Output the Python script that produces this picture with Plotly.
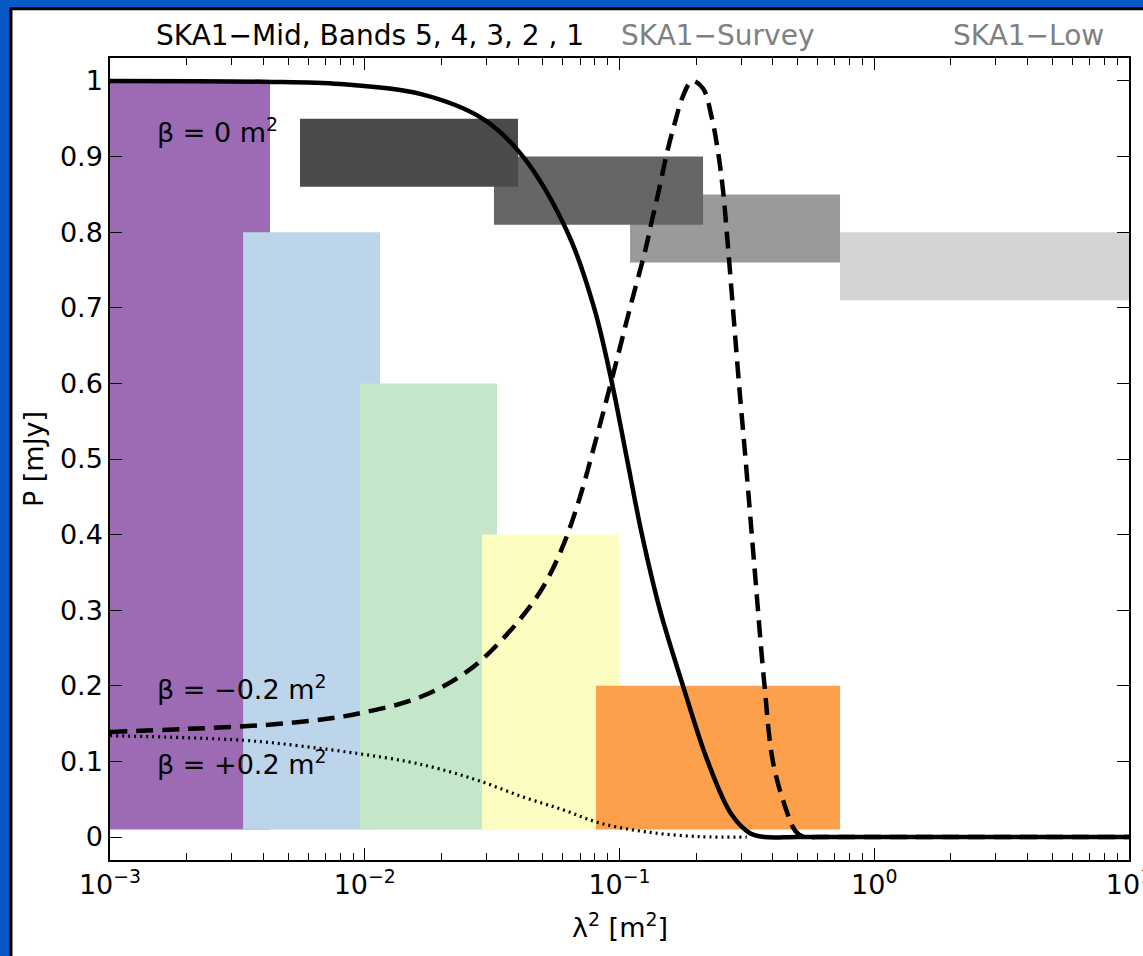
import plotly.graph_objects as go

# ---------------- data ----------------
# beta = 0 m^2  (solid)
lam_solid = [0.001, 0.004, 0.008, 0.0165, 0.0291, 0.0418, 0.0625, 0.0795, 0.0935,
             0.107, 0.1225, 0.1442, 0.1775, 0.222, 0.275, 0.3254, 0.37, 0.5,
             1.0, 10.0]
p_solid = [1.0, 0.999, 0.996, 0.983, 0.95, 0.90, 0.80, 0.70, 0.60,
           0.50, 0.40, 0.30, 0.20, 0.10, 0.03, 0.005, 0.0, 0.0,
           0.0, 0.0]

# beta = -0.2 m^2 (dashed)
lam_dash = [0.001, 0.002, 0.004, 0.007, 0.01, 0.015, 0.02, 0.025, 0.03, 0.04,
            0.05, 0.06, 0.07, 0.08, 0.09, 0.10, 0.11, 0.126, 0.134, 0.1442,
            0.1536, 0.165, 0.1775, 0.1926, 0.2128, 0.2307, 0.2435, 0.2549,
            0.2667, 0.2944, 0.3124, 0.340, 0.370, 0.40, 0.447, 0.49, 0.53,
            0.6, 1.0, 10.0]
p_dash = [0.139, 0.143, 0.148, 0.156, 0.165, 0.180, 0.198, 0.218, 0.240, 0.285,
          0.33, 0.385, 0.45, 0.52, 0.585, 0.645, 0.70, 0.775, 0.815, 0.862,
          0.905, 0.945, 0.980, 1.0, 0.99, 0.95, 0.907, 0.855,
          0.78, 0.60, 0.50, 0.35, 0.204, 0.10, 0.04, 0.008, 0.0,
          0.0, 0.0, 0.0]

# beta = +0.2 m^2 (dotted)
lam_dot = [0.001, 0.00333, 0.00572, 0.00958, 0.0146, 0.0197, 0.0283, 0.0418,
           0.060, 0.0838, 0.128, 0.207, 0.316]
p_dot = [0.134, 0.128, 0.12, 0.11, 0.10, 0.09, 0.074, 0.053,
         0.036, 0.0185, 0.0066, 0.0005, 0.0]

# SKA1-Mid bands (coloured blocks): lambda^2 start, end, P top
band_names = ["Band 5", "Band 4", "Band 3", "Band 2", "Band 1"]
band_x0 = [0.001, 0.00333, 0.00958, 0.02886, 0.08086]
band_x1 = [0.004246, 0.01148, 0.03305, 0.09955, 0.7338]
band_top = [1.0, 0.8, 0.6, 0.4, 0.2]
band_bottom = [0.01, 0.01, 0.01, 0.01, 0.01]
band_colors = ["#9c6bb4", "#bdd5ea", "#c4e7ca", "#fdfdc2", "#fca04c"]

# grey blocks (drawn light first, dark on top)
grey_x0 = [0.7338, 0.1100, 0.03216, 0.005569]
grey_x1 = [10.0, 0.7338, 0.2128, 0.03996]
grey_bottom = [0.71, 0.76, 0.81, 0.86]
grey_top = [0.80, 0.85, 0.90, 0.95]
grey_colors = ["#d4d4d4", "#9a9a9a", "#666666", "#4b4b4b"]

y_ticks = [0, 0.1, 0.2, 0.3, 0.4, 0.5, 0.6, 0.7, 0.8, 0.9, 1]
y_ticktext = ["0", "0.1", "0.2", "0.3", "0.4", "0.5", "0.6", "0.7", "0.8", "0.9", "1"]
x_ticks = [1e-3, 1e-2, 1e-1, 1e0, 1e1]
x_ticktext = ["10<sup>−3</sup>", "10<sup>−2</sup>", "10<sup>−1</sup>",
              "10<sup>0</sup>", "10<sup>1</sup>"]

FONT = "DejaVu Sans, Liberation Sans, Arial, sans-serif"
FS = 27

fig = go.Figure()

shapes = []
# white panel over blue slide background
shapes.append(dict(type="rect", xref="paper", yref="paper",
                   x0=-0.0972, x1=1.03, y0=-0.15, y1=1.0614,
                   fillcolor="white", line=dict(color="black", width=3),
                   layer="below"))
for x0, x1, y0, y1, c in zip(band_x0, band_x1, band_bottom, band_top, band_colors):
    shapes.append(dict(type="rect", xref="x", yref="y", x0=x0, x1=x1, y0=y0, y1=y1,
                       fillcolor=c, line=dict(width=0), layer="below"))
for x0, x1, y0, y1, c in zip(grey_x0, grey_x1, grey_bottom, grey_top, grey_colors):
    shapes.append(dict(type="rect", xref="x", yref="y", x0=x0, x1=x1, y0=y0, y1=y1,
                       fillcolor=c, line=dict(width=0), layer="below"))

fig.add_trace(go.Scatter(x=lam_dot, y=p_dot, mode="lines",
                         line=dict(color="black", width=3.2, dash="2px,4px",
                                   shape="spline", smoothing=1.0),
                         showlegend=False, hoverinfo="skip"))
fig.add_trace(go.Scatter(x=lam_dash, y=p_dash, mode="lines",
                         line=dict(color="black", width=4.5, dash="17px,9px",
                                   shape="spline", smoothing=1.0),
                         showlegend=False, hoverinfo="skip"))
fig.add_trace(go.Scatter(x=lam_solid, y=p_solid, mode="lines",
                         line=dict(color="black", width=4.5,
                                   shape="spline", smoothing=1.0),
                         showlegend=False, hoverinfo="skip"))
# invisible trace that carries the minor-tick overlay axis
fig.add_trace(go.Scatter(x=[1e-3, 10], y=[0, 0], xaxis="x2", yaxis="y",
                         mode="lines", line=dict(width=0), opacity=0,
                         showlegend=False, hoverinfo="skip"))

minor_vals = [m * 10.0 ** k for k in range(-3, 1) for m in range(2, 10)]

annotations = [
    dict(text="SKA1−Mid, Bands 5, 4, 3, 2 , 1", xref="paper", yref="paper",
         x=0.255, y=1.0276, showarrow=False, font=dict(size=FS + 1, color="black"),
         xanchor="center", yanchor="middle"),
    dict(text="SKA1−Survey", xref="paper", yref="paper",
         x=0.596, y=1.0276, showarrow=False, font=dict(size=FS + 1, color="#808080"),
         xanchor="center", yanchor="middle"),
    dict(text="SKA1−Low", xref="paper", yref="paper",
         x=0.901, y=1.0276, showarrow=False, font=dict(size=FS + 1, color="#808080"),
         xanchor="center", yanchor="middle"),
    dict(text="β = 0 m<sup>2</sup>", xref="x", yref="y", x=-2.823, y=0.935,
         showarrow=False, font=dict(size=FS, color="black"),
         xanchor="left", yanchor="middle"),
    dict(text="β = −0.2 m<sup>2</sup>", xref="x", yref="y", x=-2.823, y=0.198,
         showarrow=False, font=dict(size=FS, color="black"),
         xanchor="left", yanchor="middle"),
    dict(text="β = +0.2 m<sup>2</sup>", xref="x", yref="y", x=-2.823, y=0.098,
         showarrow=False, font=dict(size=FS, color="black"),
         xanchor="left", yanchor="middle"),
    dict(text="λ<sup>2</sup> [m<sup>2</sup>]", xref="paper", yref="paper",
         x=0.5, y=-0.082, showarrow=False, font=dict(size=FS, color="black"),
         xanchor="center", yanchor="middle"),
    dict(text="P [mJy]", xref="paper", yref="paper",
         x=-0.0755, y=0.5, showarrow=False, font=dict(size=FS, color="black"),
         xanchor="center", yanchor="middle", textangle=-90),
]

fig.update_layout(
    width=1143, height=956,
    margin=dict(l=110, r=14, t=58, b=96, autoexpand=False),
    paper_bgcolor="#0858c8",
    plot_bgcolor="rgba(0,0,0,0)",
    font=dict(family=FONT, size=FS, color="black"),
    shapes=shapes,
    annotations=annotations,
    showlegend=False,
    xaxis=dict(type="log", range=[-3, 1], tickmode="array", tickvals=x_ticks,
               ticktext=x_ticktext, ticks="inside", ticklen=12, tickwidth=1.2,
               tickcolor="black", showline=True, linecolor="black", linewidth=1.5,
               mirror="ticks", showgrid=False, zeroline=False, automargin=False,
               ticklabeloverflow="allow",
               tickfont=dict(size=FS, color="black")),
    xaxis2=dict(type="log", range=[-3, 1], overlaying="x", anchor="y", side="bottom",
                tickmode="array", tickvals=minor_vals, showticklabels=False,
                ticks="inside", ticklen=7, tickwidth=1, tickcolor="black",
                showline=True, linecolor="black", linewidth=1.5, mirror="ticks",
                showgrid=False, zeroline=False, automargin=False),
    yaxis=dict(range=[-0.0304, 1.0304], tickmode="array", tickvals=y_ticks,
               ticktext=y_ticktext, ticks="inside", ticklen=12, tickwidth=1.2,
               tickcolor="black", showline=True, linecolor="black", linewidth=1.5,
               mirror="ticks", showgrid=False, zeroline=False, automargin=False,
               tickfont=dict(size=FS, color="black")),
)

fig.write_html("out.html")
